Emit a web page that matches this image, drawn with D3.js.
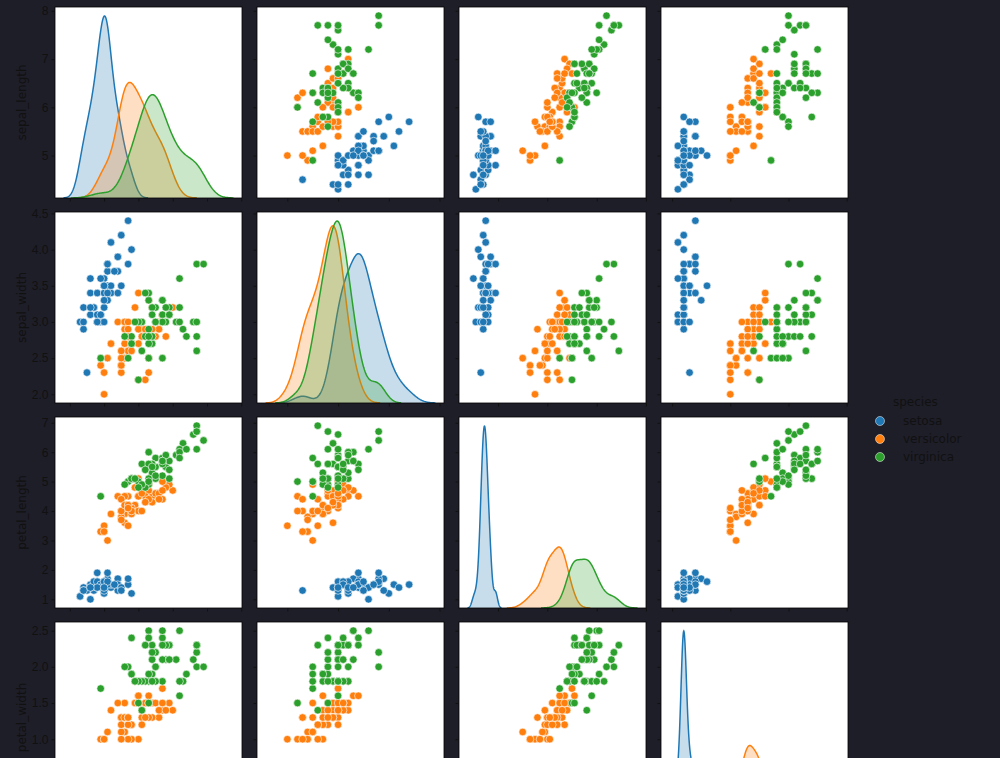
<!DOCTYPE html>
<html><head><meta charset="utf-8">
<script src="https://cdn.jsdelivr.net/npm/d3@7"></script>
<style>body{margin:0;background:#1e1e28;}svg{display:block;font-family:"DejaVu Sans",sans-serif;}</style>
</head><body><svg id="c" width="1000" height="758"></svg>
<script>
const variables=["sepal_length","sepal_width","petal_length","petal_width"];
const speciesNames=["setosa","versicolor","virginica"];
const colors=["#1f77b4","#ff7f0e","#2ca02c"];
const setosa=[[5.1,3.5,1.4,0.2],[4.9,3.0,1.4,0.2],[4.7,3.2,1.3,0.2],[4.6,3.1,1.5,0.2],[5.0,3.6,1.4,0.2],[5.4,3.9,1.7,0.4],[4.6,3.4,1.4,0.3],[5.0,3.4,1.5,0.2],[4.4,2.9,1.4,0.2],[4.9,3.1,1.5,0.1],[5.4,3.7,1.5,0.2],[4.8,3.4,1.6,0.2],[4.8,3.0,1.4,0.1],[4.3,3.0,1.1,0.1],[5.8,4.0,1.2,0.2],[5.7,4.4,1.5,0.4],[5.4,3.9,1.3,0.4],[5.1,3.5,1.4,0.3],[5.7,3.8,1.7,0.3],[5.1,3.8,1.5,0.3],[5.4,3.4,1.7,0.2],[5.1,3.7,1.5,0.4],[4.6,3.6,1.0,0.2],[5.1,3.3,1.7,0.5],[4.8,3.4,1.9,0.2],[5.0,3.0,1.6,0.2],[5.0,3.4,1.6,0.4],[5.2,3.5,1.5,0.2],[5.2,3.4,1.4,0.2],[4.7,3.2,1.6,0.2],[4.8,3.1,1.6,0.2],[5.4,3.4,1.5,0.4],[5.2,4.1,1.5,0.1],[5.5,4.2,1.4,0.2],[4.9,3.1,1.5,0.2],[5.0,3.2,1.2,0.2],[5.5,3.5,1.3,0.2],[4.9,3.6,1.4,0.1],[4.4,3.0,1.3,0.2],[5.1,3.4,1.5,0.2],[5.0,3.5,1.3,0.3],[4.5,2.3,1.3,0.3],[4.4,3.2,1.3,0.2],[5.0,3.5,1.6,0.6],[5.1,3.8,1.9,0.4],[4.8,3.0,1.4,0.3],[5.1,3.8,1.6,0.2],[4.6,3.2,1.4,0.2],[5.3,3.7,1.5,0.2],[5.0,3.3,1.4,0.2]];
const versicolor=[[7.0,3.2,4.7,1.4],[6.4,3.2,4.5,1.5],[6.9,3.1,4.9,1.5],[5.5,2.3,4.0,1.3],[6.5,2.8,4.6,1.5],[5.7,2.8,4.5,1.3],[6.3,3.3,4.7,1.6],[4.9,2.4,3.3,1.0],[6.6,2.9,4.6,1.3],[5.2,2.7,3.9,1.4],[5.0,2.0,3.5,1.0],[5.9,3.0,4.2,1.5],[6.0,2.2,4.0,1.0],[6.1,2.9,4.7,1.4],[5.6,2.9,3.6,1.3],[6.7,3.1,4.4,1.4],[5.6,3.0,4.5,1.5],[5.8,2.7,4.1,1.0],[6.2,2.2,4.5,1.5],[5.6,2.5,3.9,1.1],[5.9,3.2,4.8,1.8],[6.1,2.8,4.0,1.3],[6.3,2.5,4.9,1.5],[6.1,2.8,4.7,1.2],[6.4,2.9,4.3,1.3],[6.6,3.0,4.4,1.4],[6.8,2.8,4.8,1.4],[6.7,3.0,5.0,1.7],[6.0,2.9,4.5,1.5],[5.7,2.6,3.5,1.0],[5.5,2.4,3.8,1.1],[5.5,2.4,3.7,1.0],[5.8,2.7,3.9,1.2],[6.0,2.7,5.1,1.6],[5.4,3.0,4.5,1.5],[6.0,3.4,4.5,1.6],[6.7,3.1,4.7,1.5],[6.3,2.3,4.4,1.3],[5.6,3.0,4.1,1.3],[5.5,2.5,4.0,1.3],[5.5,2.6,4.4,1.2],[6.1,3.0,4.6,1.4],[5.8,2.6,4.0,1.2],[5.0,2.3,3.3,1.0],[5.6,2.7,4.2,1.3],[5.7,3.0,4.2,1.2],[5.7,2.9,4.2,1.3],[6.2,2.9,4.3,1.3],[5.1,2.5,3.0,1.1],[5.7,2.8,4.1,1.3]];
const virginica=[[6.3,3.3,6.0,2.5],[5.8,2.7,5.1,1.9],[7.1,3.0,5.9,2.1],[6.3,2.9,5.6,1.8],[6.5,3.0,5.8,2.2],[7.6,3.0,6.6,2.1],[4.9,2.5,4.5,1.7],[7.3,2.9,6.3,1.8],[6.7,2.5,5.8,1.8],[7.2,3.6,6.1,2.5],[6.5,3.2,5.1,2.0],[6.4,2.7,5.3,1.9],[6.8,3.0,5.5,2.1],[5.7,2.5,5.0,2.0],[5.8,2.8,5.1,2.4],[6.4,3.2,5.3,2.3],[6.5,3.0,5.5,1.8],[7.7,3.8,6.7,2.2],[7.7,2.6,6.9,2.3],[6.0,2.2,5.0,1.5],[6.9,3.2,5.7,2.3],[5.6,2.8,4.9,2.0],[7.7,2.8,6.7,2.0],[6.3,2.7,4.9,1.8],[6.7,3.3,5.7,2.1],[7.2,3.2,6.0,1.8],[6.2,2.8,4.8,1.8],[6.1,3.0,4.9,1.8],[6.4,2.8,5.6,2.1],[7.2,3.0,5.8,1.6],[7.4,2.8,6.1,1.9],[7.9,3.8,6.4,2.0],[6.4,2.8,5.6,2.2],[6.3,2.8,5.1,1.5],[6.1,2.6,5.6,1.4],[7.7,3.0,6.1,2.3],[6.3,3.4,5.6,2.4],[6.4,3.1,5.5,1.8],[6.0,3.0,4.8,1.8],[6.9,3.1,5.4,2.1],[6.7,3.1,5.6,2.4],[6.9,3.1,5.1,2.3],[5.8,2.7,5.1,1.9],[6.8,3.2,5.9,2.3],[6.7,3.3,5.7,2.5],[6.7,3.0,5.2,2.3],[6.3,2.5,5.0,1.9],[6.5,3.0,5.2,2.0],[6.2,3.4,5.4,2.3],[5.9,3.0,5.1,1.8]];
const yTicks=[[5,6,7,8],[2.0,2.5,3.0,3.5,4.0,4.5],[1,2,3,4,5,6,7],[0.0,0.5,1.0,1.5,2.0,2.5]];
const yFmt=[d3.format("d"),d3.format(".1f"),d3.format("d"),d3.format(".1f")];

const groups=[setosa,versicolor,virginica];
const svg=d3.select("#c");
const px0=[55,257,459,661], py0=[7,212,417,622], W=187, H=191;

// KDE per variable per species (scott bandwidth, cut=3, gridsize=200)
function kde(vals){
  const n=vals.length, m=d3.mean(vals), sd=d3.deviation(vals);
  const bw=sd*Math.pow(n,-1/5);
  const lo=d3.min(vals)-3*bw, hi=d3.max(vals)+3*bw;
  const pts=[];
  for(let i=0;i<200;i++){const x=lo+(hi-lo)*i/199;
    let s=0; for(const v of vals){const z=(x-v)/bw; s+=Math.exp(-0.5*z*z);}
    pts.push([x,s/(150*bw*Math.sqrt(2*Math.PI))]);}
  return pts;
}
const kdes=variables.map((v,j)=>groups.map(g=>kde(g.map(r=>r[j]))));
function pad(e){const d=e[1]-e[0];return [e[0]-0.05*d,e[1]+0.05*d];}
const dataExt=variables.map((v,j)=>d3.extent(groups.flat(),r=>r[j]));
const xExt=variables.map((v,j)=>{const k=kdes[j].flat();return [Math.min(dataExt[j][0],d3.min(k,p=>p[0])),Math.max(dataExt[j][1],d3.max(k,p=>p[0]))];});
const xs=variables.map((v,j)=>d3.scaleLinear().domain(pad(xExt[j])).range([px0[j],px0[j]+W]));
const ys=variables.map((v,i)=>d3.scaleLinear().domain(pad(dataExt[i])).range([py0[i]+H,py0[i]]));

for(let i=0;i<4;i++)for(let j=0;j<4;j++){
  const g=svg.append("g");
  g.append("rect").attr("x",px0[j]).attr("y",py0[i]).attr("width",W).attr("height",H).attr("fill","#fff");
  const cid="cl"+i+j;
  g.append("clipPath").attr("id",cid).append("rect").attr("x",px0[j]).attr("y",py0[i]).attr("width",W).attr("height",H);
  const inner=g.append("g").attr("clip-path",`url(#${cid})`);
  if(i===j){
    const dmax=d3.max(kdes[j].flat(),p=>p[1]);
    const dy=d3.scaleLinear().domain([0,dmax*1.05]).range([py0[i]+H,py0[i]]);
    kdes[j].forEach((k,s)=>{
      inner.append("path").datum(k).attr("fill",colors[s]).attr("fill-opacity",0.25)
        .attr("d",d3.area().x(p=>xs[j](p[0])).y0(dy(0)).y1(p=>dy(p[1])));
      inner.append("path").datum(k).attr("fill","none").attr("stroke",colors[s]).attr("stroke-width",1.5)
        .attr("d",d3.line().x(p=>xs[j](p[0])).y(p=>dy(p[1])));
    });
  } else {
    groups.forEach((grp,s)=>{
      inner.selectAll(null).data(grp).enter().append("circle")
        .attr("cx",r=>xs[j](r[j])).attr("cy",r=>ys[i](r[i])).attr("r",3.8)
        .attr("fill",colors[s]).attr("stroke","#fff").attr("stroke-width",0.6);
    });
  }
  g.append("rect").attr("x",px0[j]).attr("y",py0[i]).attr("width",W).attr("height",H).attr("fill","none").attr("stroke","#000").attr("stroke-width",0.8);
  const ya=d3.axisLeft(ys[i]).tickValues(yTicks[i]).tickSize(3.5).tickFormat(j===0?yFmt[i]:"");
  const ag=g.append("g").attr("transform",`translate(${px0[j]},0)`).call(ya);
  ag.select(".domain").remove();
  ag.selectAll("line").attr("stroke","#111");
  ag.selectAll("text").attr("fill","#111").attr("font-size",12);
  const xa=d3.axisBottom(xs[j]).ticks(4).tickSize(3.5).tickFormat("");
  const bg=g.append("g").attr("transform",`translate(0,${py0[i]+H})`).call(xa);
  bg.select(".domain").remove(); bg.selectAll("line").attr("stroke","#111");
}
variables.forEach((v,i)=>{
  svg.append("text").attr("transform",`translate(26,${py0[i]+H/2}) rotate(-90)`).attr("text-anchor","middle")
    .attr("fill","#111").attr("font-size",12).text(v);
});
const lg=svg.append("g");
lg.append("text").attr("x",893).attr("y",406).attr("font-size",12).attr("fill","#111").attr("text-anchor","start").text("species");
speciesNames.forEach((s,k)=>{
  lg.append("circle").attr("cx",880).attr("cy",421+18*k).attr("r",4.5).attr("fill",colors[k]).attr("stroke","#fff").attr("stroke-width",0.5);
  lg.append("text").attr("x",903).attr("y",425+18*k).attr("font-size",12).attr("fill","#111").text(s);
});
</script></body></html>
